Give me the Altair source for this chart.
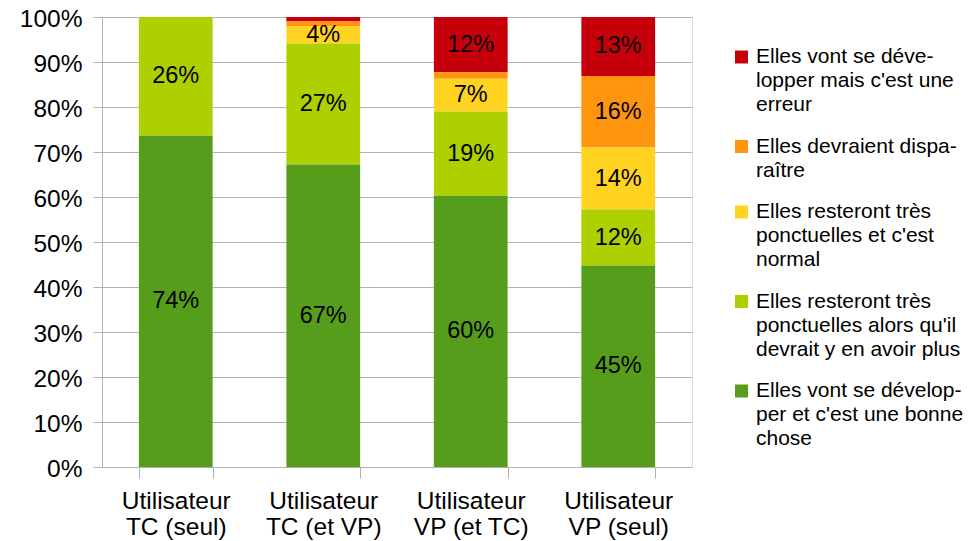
import altair as alt
import pandas as pd

categories = ["Utilisateur\nTC (seul)", "Utilisateur\nTC (et VP)",
              "Utilisateur\nVP (et TC)", "Utilisateur\nVP (seul)"]
series = [
    "Elles vont se déve-\nlopper mais c'est une\nerreur",
    "Elles devraient dispa-\nraître",
    "Elles resteront très\nponctuelles et c'est\nnormal",
    "Elles resteront très\nponctuelles alors qu'il\ndevrait y en avoir plus",
    "Elles vont se dévelop-\nper et c'est une bonne\nchose",
]
colors = ["#C5000B", "#FF950E", "#FFD320", "#AECF00", "#579D1C"]
v_red = [0.0, 1.0, 12.3, 13.1]
v_orange = [0.0, 1.1, 1.4, 15.9]
v_yellow = [0.0, 3.8, 7.3, 13.8]
v_lgreen = [26.4, 26.9, 18.7, 12.4]
v_green = [73.6, 67.2, 60.3, 44.8]
y_ticks = [0, 0.1, 0.2, 0.3, 0.4, 0.5, 0.6, 0.7, 0.8, 0.9, 1.0]

all_vals = [v_red, v_orange, v_yellow, v_lgreen, v_green]
rows = []
for si, (s, vals) in enumerate(zip(series, all_vals)):
    for ci, c in enumerate(categories):
        rows.append({"cat": c, "serie": s, "rank": len(series) - 1 - si, "value": vals[ci]})
df = pd.DataFrame(rows)

font = "Liberation Sans"
grey = "#b3b3b3"

base = alt.Chart(df).transform_calculate(
    frac="datum.value / 100"
).transform_stack(
    stack="frac", groupby=["cat"], as_=["y0", "y1"], sort=[alt.SortField("rank", order="ascending")]
).transform_calculate(
    mid="(datum.y0 + datum.y1) / 2",
    lab="format(datum.frac, '.0%')"
)

xenc = alt.X("cat:N", sort=categories,
             scale=alt.Scale(paddingInner=0.5, paddingOuter=0.25),
             axis=alt.Axis(title=None, labelAngle=0, labelExpr="split(datum.label, '\\n')",
                           labelFontSize=24.5, labelLineHeight=26, labelFont=font, labelColor="#000",
                           labelBaseline="top", tickBand="extent", tickSize=11, labelPadding=11,
                           domainColor=grey, tickColor=grey, grid=False))

bars = base.mark_bar().encode(
    x=xenc,
    y=alt.Y("y0:Q", scale=alt.Scale(domain=[0, 1]),
            axis=alt.Axis(title=None, values=y_ticks, format=".0%", labelFontSize=24.5,
                          labelFont=font, labelColor="#000", tickSize=9, labelPadding=11,
                          labelOffset=2.5,
                          domainColor=grey, tickColor=grey, gridColor=grey)),
    y2="y1:Q",
    color=alt.Color("serie:N", sort=series, scale=alt.Scale(domain=series, range=colors),
                    legend=alt.Legend(title=None, orient="none", legendX=629, legendY=29.5,
                                      labelExpr="split(datum.label, '\\n')",
                                      symbolType="square", symbolSize=169, symbolStrokeWidth=0,
                                      labelFontSize=21, labelFont=font, labelColor="#000",
                                      labelOffset=4, rowPadding=19.5, padding=0, labelLimit=400,
                                      labelBaseline="middle")),
)

texts = base.transform_filter("datum.value >= 2").mark_text(
    fontSize=23.5, font=font, color="#000", baseline="middle"
).encode(
    x=alt.X("cat:N", sort=categories),
    y=alt.Y("mid:Q"),
    text="lab:N",
)

chart = alt.layer(bars, texts).properties(
    width=590, height=450,
    autosize=alt.AutoSizeParams(type="none"),
    padding={"left": 94, "top": 9, "right": 276, "bottom": 74},
).configure_view(stroke=grey).configure(
    style={"guide-label": {"lineHeight": 24}}
)

chart.save("out.html", embed_options={"renderer": "svg", "actions": False})
